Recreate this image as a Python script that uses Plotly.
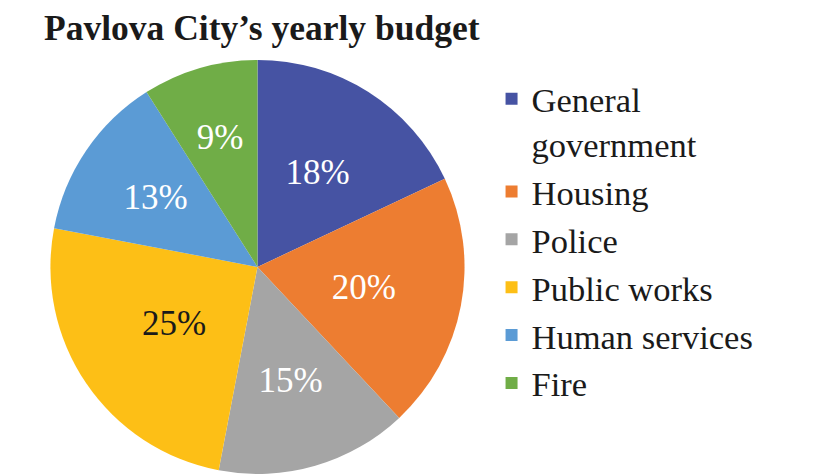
import plotly.graph_objects as go

categories = ["General<br>government", "Housing", "Police", "Public works",
              "Human services", "Fire"]
shares = [18, 20, 15, 25, 13, 9]
slice_colors = ["#4653A3", "#ED7D31", "#A5A5A5", "#FDBF16", "#5B9BD5", "#70AD47"]
text_colors = ["white", "white", "white", "#1a1a1a", "white", "white"]

fig = go.Figure()

# the coloured slices (no labels)
fig.add_trace(go.Pie(
    labels=categories,
    values=shares,
    sort=False,
    direction="clockwise",
    rotation=0,
    marker=dict(colors=slice_colors, line=dict(width=0)),
    textinfo="none",
    hoverinfo="label+percent",
    domain=dict(x=[0.0483, 0.5543], y=[0.021, 0.891]),
))

# transparent copy, a bit smaller, only used to pull the % labels toward the centre
fig.add_trace(go.Pie(
    labels=categories,
    values=shares,
    sort=False,
    direction="clockwise",
    rotation=0,
    showlegend=False,
    marker=dict(colors=["rgba(0,0,0,0)"] * len(shares), line=dict(width=0)),
    texttemplate="%{value}%",
    textposition="inside",
    insidetextorientation="horizontal",
    textfont=dict(family="Liberation Serif", size=35, color=text_colors),
    hoverinfo="skip",
    domain=dict(x=[0.0936, 0.509], y=[0.0945, 0.8172]),
))

fig.update_layout(
    width=828,
    height=476,
    margin=dict(l=0, r=0, t=0, b=0),
    paper_bgcolor="white",
    title=dict(
        text="<b>Pavlova City’s yearly budget</b>",
        font=dict(family="Liberation Serif", size=35.5, color="#1a1a1a"),
        x=0.0435, xanchor="left",
        y=0.958, yanchor="middle",
    ),
    legend=dict(
        x=0.584, xanchor="left",
        y=0.87, yanchor="top",
        valign="top",
        font=dict(family="Liberation Serif", size=34.5, color="#1a1a1a"),
        itemwidth=30,
        bgcolor="rgba(0,0,0,0)",
    ),
)

fig.write_html("out.html")
